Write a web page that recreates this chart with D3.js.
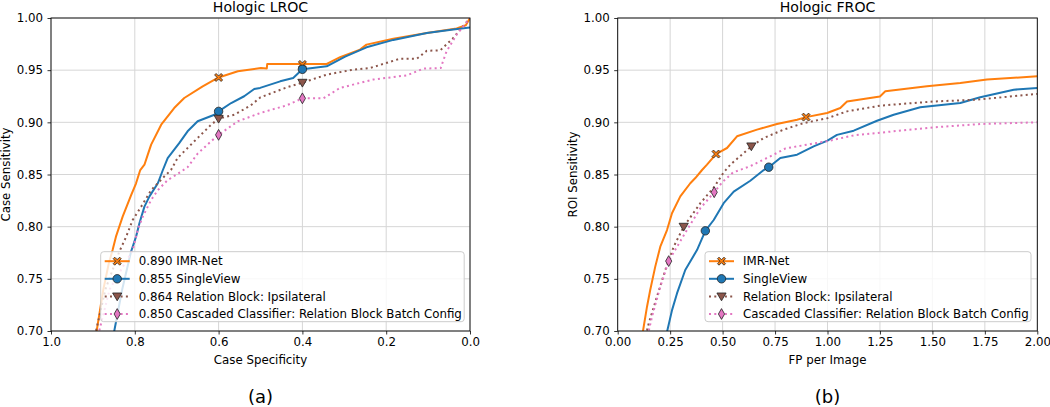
<!DOCTYPE html>
<html><head><meta charset="utf-8">
<script src="https://cdn.jsdelivr.net/npm/d3@7"></script>
<style>body{margin:0;background:#fff}svg{display:block}text{font-family:"DejaVu Sans",sans-serif}</style>
</head><body><svg id="c" width="1050" height="407"></svg>
<script>
// ---------- DATA ----------
const seriesNames = ["IMR-Net", "SingleView", "Relation Block: Ipsilateral", "Cascaded Classifier: Relation Block Batch Config"];
const lrocAUC = ["0.890", "0.855", "0.864", "0.850"];
const lrocTitle = "Hologic LROC", frocTitle = "Hologic FROC";
const lrocXTicks = [1.0, 0.8, 0.6, 0.4, 0.2, 0.0];
const frocXTicks = [0, 0.25, 0.5, 0.75, 1.0, 1.25, 1.5, 1.75, 2.0];
const yTicks = [0.70, 0.75, 0.80, 0.85, 0.90, 0.95, 1.00];

// LROC: [specificity, sensitivity]
const lrocIMR = [[0.905,0.66],[0.891,0.70],[0.875,0.74],[0.862,0.765],[0.853,0.7776],[0.845,0.7904],[0.829,0.8096],[0.809,0.83],[0.797,0.8416],[0.787,0.8543],[0.777,0.8594],[0.769,0.869],[0.761,0.8786],[0.737,0.8977],[0.706,0.9137],[0.682,0.9233],[0.638,0.9345],[0.60,0.943],[0.554,0.9489],[0.499,0.952],[0.485,0.9517],[0.484,0.9559],[0.342,0.9559],[0.330,0.9584],[0.310,0.9624],[0.2625,0.9697],[0.247,0.9745],[0.183,0.9802],[0.103,0.9856],[0.032,0.99],[0.01,0.993],[0.0,1.0]];
const lrocSingle = [[0.855,0.66],[0.849,0.70],[0.83,0.74],[0.809,0.776],[0.797,0.7904],[0.789,0.8032],[0.777,0.8192],[0.765,0.829],[0.745,0.8416],[0.733,0.8543],[0.7215,0.8658],[0.694,0.880],[0.674,0.8914],[0.65,0.901],[0.61,0.9073],[0.60,0.9105],[0.57,0.9185],[0.539,0.925],[0.515,0.932],[0.501,0.933],[0.453,0.9393],[0.422,0.9425],[0.40,0.9508],[0.342,0.9537],[0.298,0.963],[0.247,0.9719],[0.183,0.979],[0.103,0.9856],[0.04,0.989],[0.0,0.991]];
const lrocRelation = [[0.905,0.66],[0.8926,0.70],[0.87,0.74],[0.837,0.776],[0.821,0.79],[0.805,0.8064],[0.785,0.819],[0.761,0.835],[0.73,0.848],[0.7136,0.8543],[0.698,0.8658],[0.658,0.8818],[0.618,0.8977],[0.60,0.9035],[0.5625,0.9073],[0.523,0.9163],[0.50,0.924],[0.4375,0.9335],[0.40,0.938],[0.342,0.9457],[0.279,0.9505],[0.239,0.952],[0.167,0.961],[0.127,0.961],[0.103,0.9686],[0.071,0.969],[0.04,0.9808],[0.0,1.0]];
const lrocCascade = [[0.895,0.66],[0.885,0.70],[0.86,0.74],[0.805,0.7776],[0.793,0.797],[0.781,0.8096],[0.761,0.8256],[0.745,0.835],[0.7215,0.8447],[0.70,0.850],[0.674,0.857],[0.65,0.87],[0.618,0.8818],[0.60,0.888],[0.554,0.901],[0.50,0.909],[0.4375,0.9163],[0.40,0.923],[0.35,0.923],[0.31,0.933],[0.231,0.941],[0.151,0.945],[0.111,0.9515],[0.07,0.952],[0.056,0.968],[0.032,0.984],[0.0,1.0]];
const lrocMarks = [[[0.6,0.943],[0.4,0.9555]],[[0.6,0.9105],[0.4,0.9508]],[[0.6,0.9035],[0.4,0.938]],[[0.6,0.888],[0.4,0.923]]];

// FROC: [FP per image, sensitivity]
const frocIMR = [[0.10,0.66],[0.1206,0.70],[0.1397,0.7233],[0.155,0.7393],[0.179,0.7617],[0.203,0.7808],[0.235,0.7968],[0.2588,0.8128],[0.2984,0.829],[0.346,0.8416],[0.37,0.8466],[0.402,0.8543],[0.4256,0.8594],[0.4686,0.8696],[0.521,0.8754],[0.5686,0.8866],[0.664,0.893],[0.759,0.8984],[0.855,0.9025],[0.8976,0.905],[0.998,0.909],[1.061,0.9137],[1.093,0.920],[1.25,0.9248],[1.2756,0.9297],[1.474,0.9345],[1.633,0.9377],[1.76,0.941],[2.0,0.9442]];
const frocSingle = [[0.22,0.66],[0.236,0.70],[0.259,0.72],[0.2826,0.736],[0.322,0.7585],[0.378,0.7776],[0.4177,0.796],[0.4576,0.8064],[0.505,0.8225],[0.553,0.8336],[0.632,0.844],[0.696,0.8543],[0.72,0.857],[0.775,0.8658],[0.855,0.869],[0.934,0.877],[1.0,0.8825],[1.045,0.888],[1.125,0.892],[1.236,0.9015],[1.3155,0.9073],[1.442,0.9144],[1.633,0.9185],[1.728,0.924],[1.8876,0.9313],[2.0,0.9329]];
const frocRelation = [[0.12,0.66],[0.139,0.70],[0.148,0.7074],[0.187,0.7329],[0.227,0.7585],[0.267,0.7808],[0.3145,0.80],[0.394,0.8225],[0.46,0.838],[0.505,0.852],[0.537,0.8594],[0.637,0.877],[0.696,0.885],[0.791,0.893],[0.887,0.8993],[1.0,0.904],[1.093,0.9105],[1.252,0.916],[1.506,0.920],[1.712,0.9217],[2.0,0.9272]];
const frocCascade = [[0.13,0.66],[0.148,0.70],[0.1635,0.7137],[0.203,0.7425],[0.243,0.767],[0.283,0.7808],[0.33,0.7968],[0.394,0.8177],[0.46,0.833],[0.50,0.843],[0.55,0.852],[0.632,0.858],[0.7435,0.869],[0.80,0.875],[0.902,0.8786],[1.0,0.882],[1.125,0.8875],[1.3155,0.8914],[1.506,0.8952],[1.728,0.8984],[2.0,0.900]];
const frocMarks = [[[0.4686,0.8696],[0.8976,0.905]],[[0.4177,0.796],[0.72,0.857]],[[0.3145,0.80],[0.637,0.877]],[[0.243,0.767],[0.46,0.833]]];

// ---------- STYLE ----------
const colors = ["#ff7f0e", "#1f77b4", "#8c564b", "#e377c2"];
const dashes = [null, null, "2,3.3", "2,3.3"];
const markerTypes = ["X", "o", "v", "d"];
const FS = 11.8;

const svg = d3.select("#c");
const T = 331, TOP = 18;

function markerPath(type) {
  if (type === "o") return d3.symbol(d3.symbolCircle, 56)();
  if (type === "v") return "M-4.6,-3.4L4.6,-3.4L0,4.4Z";
  if (type === "d") return "M0,-5.4L3.1,0L0,5.4L-3.1,0Z";
  const a = 1.5, b = 4.0;
  return `M${-b+a},${-b}L0,${-a}L${b-a},${-b}L${b},${-b+a}L${a},0L${b},${b-a}L${b-a},${b}L0,${a}L${-b+a},${b}L${-b},${b-a}L${-a},0L${-b},${-b+a}Z`;
}

function drawPanel(opts) {
  const {x, y, series, marks, title, xlabel, ylabel, xTicks, xFmt, labels, legendBox, ylabelX, caption} = opts;
  const g = svg.append("g");
  const [x0, x1] = x.range();
  const clipId = "clip" + Math.round(x0);
  g.append("clipPath").attr("id", clipId).append("rect")
    .attr("x", Math.min(x0,x1)).attr("y", TOP).attr("width", Math.abs(x1-x0)).attr("height", T-TOP);
  g.append("g").selectAll("line").data(xTicks).join("line")
    .attr("x1", d => x(d)).attr("x2", d => x(d)).attr("y1", TOP).attr("y2", T)
    .attr("stroke", "#d6d6d6").attr("stroke-width", 1);
  g.append("g").selectAll("line").data(yTicks).join("line")
    .attr("y1", d => y(d)).attr("y2", d => y(d)).attr("x1", x0).attr("x2", x1)
    .attr("stroke", "#d6d6d6").attr("stroke-width", 1);
  const line = d3.line().x(d => x(d[0])).y(d => y(d[1]));
  const lg = g.append("g").attr("clip-path", `url(#${clipId})`);
  series.forEach((s, i) => {
    lg.append("path").attr("d", line(s)).attr("fill", "none")
      .attr("stroke", colors[i]).attr("stroke-width", 2)
      .attr("stroke-dasharray", dashes[i]).attr("stroke-linejoin", "round");
  });
  marks.forEach((m, i) => {
    lg.selectAll(null).data(m).join("path")
      .attr("transform", d => `translate(${x(d[0])},${y(d[1])})`)
      .attr("d", markerPath(markerTypes[i]))
      .attr("fill", colors[i]).attr("stroke", "#222").attr("stroke-width", 0.8);
  });
  const ax = g.append("g").attr("transform", `translate(0,${T})`)
    .call(d3.axisBottom(x).tickValues(xTicks).tickFormat(xFmt).tickSize(3.5).tickPadding(3.5));
  const ay = g.append("g").attr("transform", `translate(${x0},0)`)
    .call(d3.axisLeft(y).tickValues(yTicks).tickFormat(d3.format(".2f")).tickSize(3.5).tickPadding(4.5));
  [ax, ay].forEach(a => {
    a.select(".domain").remove();
    a.selectAll("text").attr("font-size", FS).attr("fill", "#000").attr("font-family", "DejaVu Sans");
    a.selectAll("line").attr("stroke", "#000").attr("stroke-width", 0.8);
  });
  g.append("rect").attr("x", Math.min(x0,x1)).attr("y", TOP).attr("width", Math.abs(x1-x0)).attr("height", T-TOP)
    .attr("fill", "none").attr("stroke", "#000").attr("stroke-width", 0.9);
  const cx = (x0 + x1) / 2;
  g.append("text").attr("x", cx).attr("y", 11.5).attr("text-anchor", "middle").attr("font-size", 14.1).text(title);
  g.append("text").attr("x", cx).attr("y", 364).attr("text-anchor", "middle").attr("font-size", FS).text(xlabel);
  g.append("text").attr("transform", `translate(${ylabelX},${(T+TOP)/2}) rotate(-90)`)
    .attr("text-anchor", "middle").attr("font-size", FS).text(ylabel);
  g.append("text").attr("x", cx).attr("y", 403).attr("text-anchor", "middle")
    .attr("font-family", "Liberation Serif").attr("font-size", 18).text(caption);
  const [bx, by, bw, bh] = legendBox;
  const leg = g.append("g");
  leg.append("rect").attr("x", bx).attr("y", by).attr("width", bw).attr("height", bh).attr("rx", 3)
    .attr("fill", "#fff").attr("fill-opacity", 0.8).attr("stroke", "#cccccc").attr("stroke-width", 1);
  labels.forEach((lab, i) => {
    const ry = by + 9.5 + i * 17.6;
    leg.append("line").attr("x1", bx + 4).attr("x2", bx + 29).attr("y1", ry).attr("y2", ry)
      .attr("stroke", colors[i]).attr("stroke-width", 2).attr("stroke-dasharray", dashes[i]);
    leg.append("path").attr("transform", `translate(${bx + 16.5},${ry})`).attr("d", markerPath(markerTypes[i]))
      .attr("fill", colors[i]).attr("stroke", "#222").attr("stroke-width", 0.8);
    leg.append("text").attr("x", bx + 38).attr("y", ry + 4.2).attr("font-size", FS).text(lab);
  });
}

const yL = d3.scaleLinear().domain([0.70, 1.00]).range([T, TOP]);
drawPanel({
  x: d3.scaleLinear().domain([1, 0]).range([51, 470]), y: yL,
  series: [lrocIMR, lrocSingle, lrocRelation, lrocCascade], marks: lrocMarks,
  title: lrocTitle, xlabel: "Case Specificity", ylabel: "Case Sensitivity",
  xTicks: lrocXTicks, xFmt: d3.format(".1f"),
  labels: seriesNames.map((n, i) => lrocAUC[i] + " " + n),
  legendBox: [100.7, 251.7, 363.5, 70], ylabelX: 10, caption: "(a)"
});
drawPanel({
  x: d3.scaleLinear().domain([0, 2]).range([617.7, 1037.3]), y: yL,
  series: [frocIMR, frocSingle, frocRelation, frocCascade], marks: frocMarks,
  title: frocTitle, xlabel: "FP per Image", ylabel: "ROI Sensitivity",
  xTicks: frocXTicks, xFmt: d3.format(".2f"),
  labels: seriesNames, legendBox: [705, 251.7, 326, 70], ylabelX: 576.5, caption: "(b)"
});
</script></body></html>
